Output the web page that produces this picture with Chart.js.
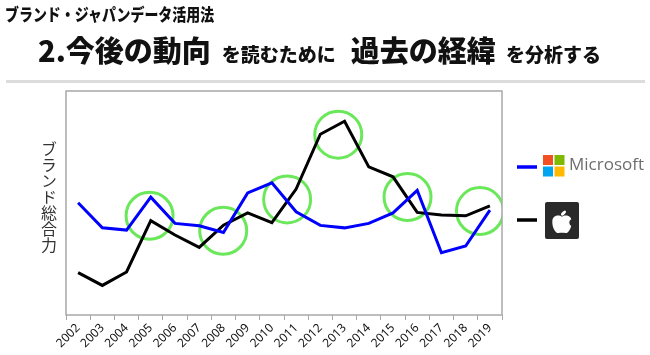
<!DOCTYPE html>
<html><head><meta charset="utf-8">
<script src="https://cdn.jsdelivr.net/npm/chart.js@4"></script>
<style>
html,body{margin:0;padding:0;background:#fff;}
body{width:650px;height:355px;position:relative;overflow:hidden;font-family:"Noto Sans CJK JP","Noto Sans",sans-serif;}
#c{position:absolute;left:0;top:0;}
.t1{position:absolute;left:5px;top:1px;font-size:17px;font-weight:900;color:#111;transform:scaleX(0.82);transform-origin:0 0;white-space:nowrap;}
.t2{position:absolute;left:38px;top:28px;white-space:nowrap;color:#111;font-weight:900;}
.big{font-size:29px;}
.sm{font-size:19px;}
.div{position:absolute;left:6px;top:80px;width:639px;height:3px;background:#dcdcdc;}
.yt{position:absolute;left:40px;top:141px;writing-mode:vertical-rl;font-size:16px;color:#333;line-height:17px;}
.ms{position:absolute;left:569px;top:152px;font-family:"Open Sans","Noto Sans",sans-serif;font-size:17px;color:#6e6e6e;}
</style></head>
<body>
<canvas id="c" width="650" height="355"></canvas>
<div class="t1">ブランド・ジャパンデータ活用法</div>
<div class="t2"><span class="big">2.今後の動向</span><span class="sm" style="margin-left:11px">を読むために</span><span class="big" style="margin-left:15px">過去の経緯</span><span class="sm" style="margin-left:10px">を分析する</span></div>
<div class="div"></div>
<div class="yt">ブランド総合力</div>
<div class="ms">Microsoft</div>
<script>
const years = ['2002','2003','2004','2005','2006','2007','2008','2009','2010','2011','2012','2013','2014','2015','2016','2017','2018','2019'];
const microsoft = [50.1,38.9,37.9,52.6,40.9,39.8,36.8,54.5,59.0,46.1,40.0,38.9,40.9,45.6,55.6,27.8,30.8,46.8];
const apple = [18.9,13.2,19.2,42.1,35.7,30.2,40.1,45.6,41.2,56.2,80.7,86.5,66.1,61.7,45.8,44.6,44.3,48.7];
const circleX = [2.95,5.99,8.63,10.74,13.6,16.59];
const circleY = [44.3,37.6,51.6,80.5,52.7,46.4];

const boxPlugin = {
  id:'box',
  afterDatasetsDraw(chart){
    const {ctx, chartArea:a} = chart;
    ctx.save();
    ctx.strokeStyle='#a8a8a8'; ctx.lineWidth=1.5;
    ctx.strokeRect(a.left, a.top, a.right-a.left, a.bottom-a.top);
    ctx.restore();
  },
  afterDraw(chart){
    const ctx = chart.ctx;
    ctx.save();
    ctx.lineWidth=3.5;
    ctx.strokeStyle='#0000ff';
    ctx.beginPath(); ctx.moveTo(517,167); ctx.lineTo(537,167); ctx.stroke();
    ctx.strokeStyle='#000';
    ctx.beginPath(); ctx.moveTo(517,220); ctx.lineTo(537,220); ctx.stroke();
    const mx=543,my=155,q=10,g=1.5;
    ctx.fillStyle='#f25022'; ctx.fillRect(mx,my,q,q);
    ctx.fillStyle='#7fba00'; ctx.fillRect(mx+q+g,my,q,q);
    ctx.fillStyle='#00a4ef'; ctx.fillRect(mx,my+q+g,q,q);
    ctx.fillStyle='#ffb900'; ctx.fillRect(mx+q+g,my+q+g,q,q);
    const bx=545,by=202,bw=34,bh=37;
    ctx.fillStyle='#2a2a2a';
    ctx.beginPath();
    if (ctx.roundRect) ctx.roundRect(bx,by,bw,bh,2); else ctx.rect(bx,by,bw,bh);
    ctx.fill();
    const cx=bx+bw/2, cy=by+bh/2+2.5, s=21;
    ctx.fillStyle='#ffffff';
    ctx.beginPath();
    ctx.moveTo(cx, cy-0.30*s);
    ctx.bezierCurveTo(cx+0.12*s, cy-0.40*s, cx+0.44*s, cy-0.40*s, cx+0.46*s, cy-0.10*s);
    ctx.bezierCurveTo(cx+0.48*s, cy+0.22*s, cx+0.30*s, cy+0.50*s, cx+0.16*s, cy+0.48*s);
    ctx.bezierCurveTo(cx+0.06*s, cy+0.46*s, cx-0.06*s, cy+0.46*s, cx-0.16*s, cy+0.48*s);
    ctx.bezierCurveTo(cx-0.30*s, cy+0.50*s, cx-0.48*s, cy+0.22*s, cx-0.46*s, cy-0.10*s);
    ctx.bezierCurveTo(cx-0.44*s, cy-0.40*s, cx-0.12*s, cy-0.40*s, cx, cy-0.30*s);
    ctx.closePath(); ctx.fill();
    ctx.fillStyle='#2a2a2a';
    ctx.beginPath(); ctx.arc(cx+0.52*s, cy-0.02*s, 0.17*s, 0, Math.PI*2); ctx.fill();
    ctx.fillStyle='#ffffff';
    ctx.beginPath(); ctx.ellipse(cx+0.07*s, cy-0.47*s, 0.07*s, 0.15*s, Math.PI/4, 0, Math.PI*2); ctx.fill();
    ctx.restore();
  }
};

new Chart(document.getElementById('c'), {
  type:'line',
  data:{
    labels: years,
    datasets:[
      {label:'Microsoft', data: microsoft, borderColor:'#0000ff', borderWidth:3, pointRadius:0, tension:0, fill:false},
      {label:'Apple', data: apple, borderColor:'#000000', borderWidth:3, pointRadius:0, tension:0, fill:false},
      {type:'scatter', label:'circles', xAxisID:'xc', data: circleX.map((x,i)=>({x:x, y:circleY[i]})),
       pointRadius:23.5, pointStyle:'circle', borderColor:'#6ae85a', borderWidth:3, backgroundColor:'rgba(0,0,0,0)', showLine:false}
    ]
  },
  options:{
    responsive:false, animation:false, events:[],
    layout:{padding:{left:66, right:148, top:91, bottom:0}},
    plugins:{legend:{display:false}, tooltip:{enabled:false}},
    scales:{
      x:{type:'category', offset:true,
         border:{display:false},
         grid:{display:true, drawOnChartArea:false, drawTicks:true, tickLength:5, color:'#a8a8a8', offset:true},
         ticks:{autoSkip:false, maxRotation:45, minRotation:45, color:'#111', padding:1, font:{family:'"Noto Sans", sans-serif', size:12}},
         afterFit(s){ s.height = 40; }
      },
      xc:{type:'linear', display:false, min:-0.5, max:17.5},
      y:{display:false, min:0, max:100}
    }
  },
  plugins:[boxPlugin]
});
</script>
</body></html>
